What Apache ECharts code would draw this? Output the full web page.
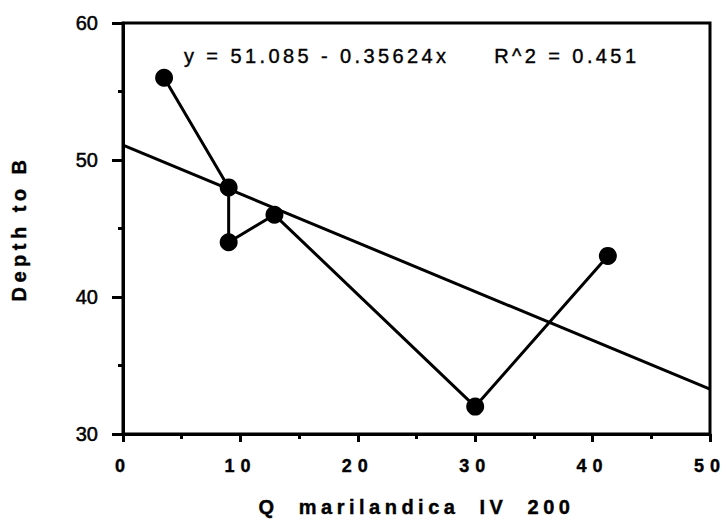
<!DOCTYPE html>
<html>
<head>
<meta charset="utf-8">
<script src="https://cdn.jsdelivr.net/npm/echarts@6/dist/echarts.min.js"></script>
<style>
  html, body { margin: 0; padding: 0; background: #fff; }
  #chart { width: 727px; height: 523px; }
  #chart text { white-space: pre; }
  /* wide tracking for the equation, axis titles and x tick labels */
  #chart text[style*="Liberation"] { letter-spacing: 3.4px; }
  #chart text[style*="bold"] { letter-spacing: 4.5px; }
  #chart text[style*="18px"] { letter-spacing: 6px; }
</style>
</head>
<body>
<div id="chart"></div>
<script>
// Observations: Q. marilandica importance value vs depth to B horizon
const qMarilandica = [3.5, 9.0, 9.0, 12.9, 30.0, 41.3];
const depthToB     = [56, 48, 44, 46, 32, 43];

// Axis ticks
const xTicks = [0, 10, 20, 30, 40, 50];
const yTicks = [30, 40, 50, 60];

// Least-squares fit as reported on the chart
const fitIntercept = 51.085;
const fitSlope = -0.35624;
const fitR2 = 0.451;

const xMin = xTicks[0], xMax = xTicks[xTicks.length - 1];
const yMin = yTicks[0], yMax = yTicks[yTicks.length - 1];

const points = qMarilandica.map((x, i) => [x, depthToB[i]]);
const fitLine = [xMin, xMax].map(x => [x, fitIntercept + fitSlope * x]);

const equation = 'y = ' + fitIntercept.toFixed(3) + ' - ' + Math.abs(fitSlope).toFixed(5) +
                 'x     R^2 = ' + fitR2.toFixed(3);

const chart = echarts.init(document.getElementById('chart'), null, { renderer: 'svg' });

const ink = '#000';
const axisCommon = {
  type: 'value',
  axisLine: { show: true, onZero: false, lineStyle: { color: ink, width: 3 } },
  axisTick: { show: true, inside: false, lineStyle: { color: ink, width: 3 } },
  minorTick: { show: true, splitNumber: 2, length: 5, lineStyle: { color: ink, width: 3 } },
  splitLine: { show: false },
  minorSplitLine: { show: false }
};

const titleStyle = {
  color: ink, fontSize: 20, fontWeight: 'bold', fontFamily: 'Liberation Sans',
  textBorderColor: ink, textBorderWidth: 0.4
};

chart.setOption({
  animation: false,
  backgroundColor: '#fff',
  grid: {
    left: 123, right: 17, top: 23, bottom: 89,
    show: true, borderColor: ink, borderWidth: 3
  },
  xAxis: Object.assign({}, axisCommon, {
    min: xMin, max: xMax, interval: xTicks[1] - xTicks[0],
    axisTick: Object.assign({}, axisCommon.axisTick, { length: 8 }),
    axisLabel: {
      margin: 23, color: ink, fontSize: 18, fontWeight: 'bold',
      fontFamily: 'Liberation Sans', textBorderColor: ink, textBorderWidth: 0.4
    },
    name: 'Q  marilandica  IV  200',
    nameLocation: 'middle',
    nameGap: 63,
    nameTextStyle: titleStyle
  }),
  yAxis: Object.assign({}, axisCommon, {
    min: yMin, max: yMax, interval: yTicks[1] - yTicks[0],
    axisTick: Object.assign({}, axisCommon.axisTick, { length: 11 }),
    axisLabel: {
      margin: 25, color: ink, fontSize: 20, fontFamily: 'Arial',
      textBorderColor: ink, textBorderWidth: 0.5
    },
    name: 'Depth to B',
    nameLocation: 'middle',
    nameGap: 94,
    nameTextStyle: titleStyle
  }),
  graphic: [{
    type: 'text',
    x: 184, y: 56,
    style: {
      text: equation,
      fill: ink,
      fontSize: 20,
      fontFamily: 'Liberation Sans',
      verticalAlign: 'middle',
      stroke: ink,
      lineWidth: 0.4
    }
  }],
  series: [
    {
      name: 'fit',
      type: 'line',
      data: fitLine,
      symbol: 'none',
      lineStyle: { color: ink, width: 3 },
      z: 2
    },
    {
      name: 'observed',
      type: 'line',
      data: points,
      symbol: 'circle',
      symbolSize: 18,
      itemStyle: { color: ink },
      lineStyle: { color: ink, width: 3 },
      z: 3
    }
  ]
});
</script>
</body>
</html>
